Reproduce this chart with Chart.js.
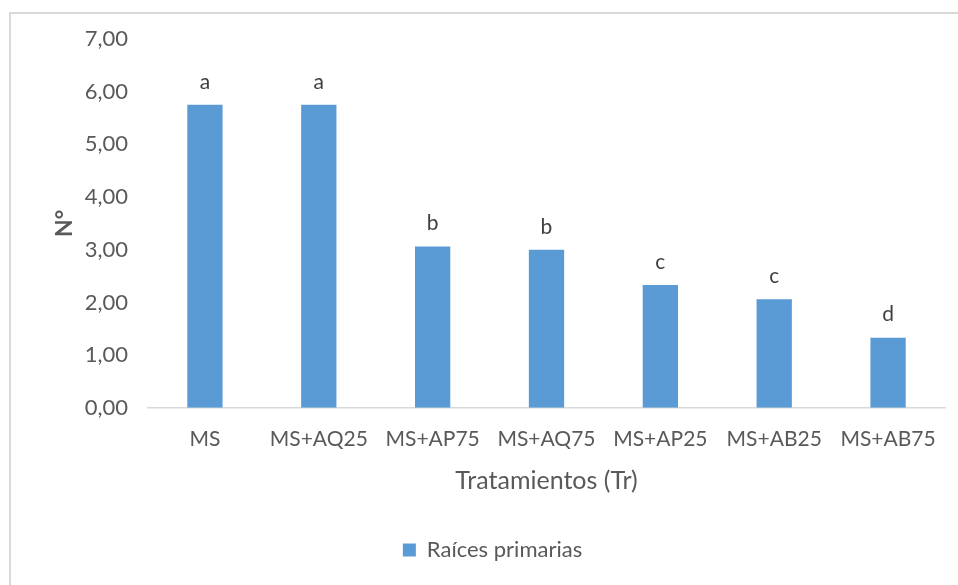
<!DOCTYPE html>
<html>
<head>
<meta charset="utf-8">
<script src="https://cdn.jsdelivr.net/npm/chart.js@4/dist/chart.umd.min.js"></script>
<style>
  html, body { margin: 0; padding: 0; background: #fff; }
  #wrap { position: relative; width: 958px; height: 585px; overflow: hidden; }
  #frame { position: absolute; left: 9px; top: 12px; width: 1000px; height: 700px;
           border-top: 2px solid #d9d9d9; border-left: 2px solid #d9d9d9; box-sizing: border-box; }
  canvas { position: absolute; left: 0; top: 0; }
</style>
</head>
<body>
<div id="wrap">
  <div id="frame"></div>
  <canvas id="c" width="958" height="585"></canvas>
</div>
<script>
// Treatments on the x axis
const categories = ['MS', 'MS+AQ25', 'MS+AP75', 'MS+AQ75', 'MS+AP25', 'MS+AB25', 'MS+AB75'];
// Mean number of primary roots per treatment
const rootValues = [5.75, 5.75, 3.06, 3.00, 2.33, 2.06, 1.33];
// Significance letters shown above each bar
const groupLetters = ['a', 'a', 'b', 'b', 'c', 'c', 'd'];
// Y axis tick labels (decimal comma)
const yTickLabels = ['0,00', '1,00', '2,00', '3,00', '4,00', '5,00', '6,00', '7,00'];

const FONT = 'Lato, "Open Sans", sans-serif';
const TEXT = '#595959';

// Writes the group letter above each bar
const letterPlugin = {
  id: 'groupLetters',
  afterDatasetsDraw(chart) {
    const ctx = chart.ctx;
    const meta = chart.getDatasetMeta(0);
    ctx.save();
    ctx.font = '21px ' + FONT;
    ctx.fillStyle = '#404040';
    ctx.textAlign = 'center';
    ctx.textBaseline = 'middle';
    meta.data.forEach((bar, i) => {
      ctx.fillText(groupLetters[i], bar.x, bar.y - 23);
    });
    ctx.restore();
  }
};

new Chart(document.getElementById('c'), {
  type: 'bar',
  data: {
    labels: categories,
    datasets: [{
      label: 'Raíces primarias',
      data: rootValues,
      backgroundColor: '#5b9bd5',
      borderWidth: 0,
      barPercentage: 0.31,
      categoryPercentage: 1
    }]
  },
  options: {
    responsive: false,
    animation: false,
    devicePixelRatio: 1,
    layout: { padding: { left: 40, right: 13, top: 39, bottom: 14 } },
    plugins: {
      legend: {
        position: 'bottom',
        labels: {
          color: TEXT,
          font: { family: FONT, size: 22 },
          boxWidth: 13,
          boxHeight: 13,
          padding: 10
        }
      },
      tooltip: { enabled: false }
    },
    scales: {
      x: {
        grid: { display: false, drawTicks: false },
        border: { display: true, color: '#d9d9d9', width: 1.5 },
        ticks: { color: TEXT, font: { family: FONT, size: 21 }, padding: 19, maxRotation: 0 },
        title: {
          display: true,
          text: 'Tratamientos (Tr)',
          color: TEXT,
          font: { family: FONT, size: 25 },
          padding: { top: -5, bottom: 33 }
        }
      },
      y: {
        min: 0,
        max: 7,
        afterFit(scale) { scale.width = 108; },
        grid: { display: false, drawTicks: false },
        border: { display: false },
        ticks: {
          stepSize: 1,
          color: TEXT,
          font: { family: FONT, size: 22 },
          padding: 20,
          callback: (v) => yTickLabels[Math.round(v)]
        },
        title: {
          display: true,
          text: 'N°',
          color: TEXT,
          font: { family: FONT, size: 23, weight: 'bold' },
          padding: { top: 11, bottom: 0 }
        }
      }
    }
  },
  plugins: [letterPlugin]
});
</script>
</body>
</html>
